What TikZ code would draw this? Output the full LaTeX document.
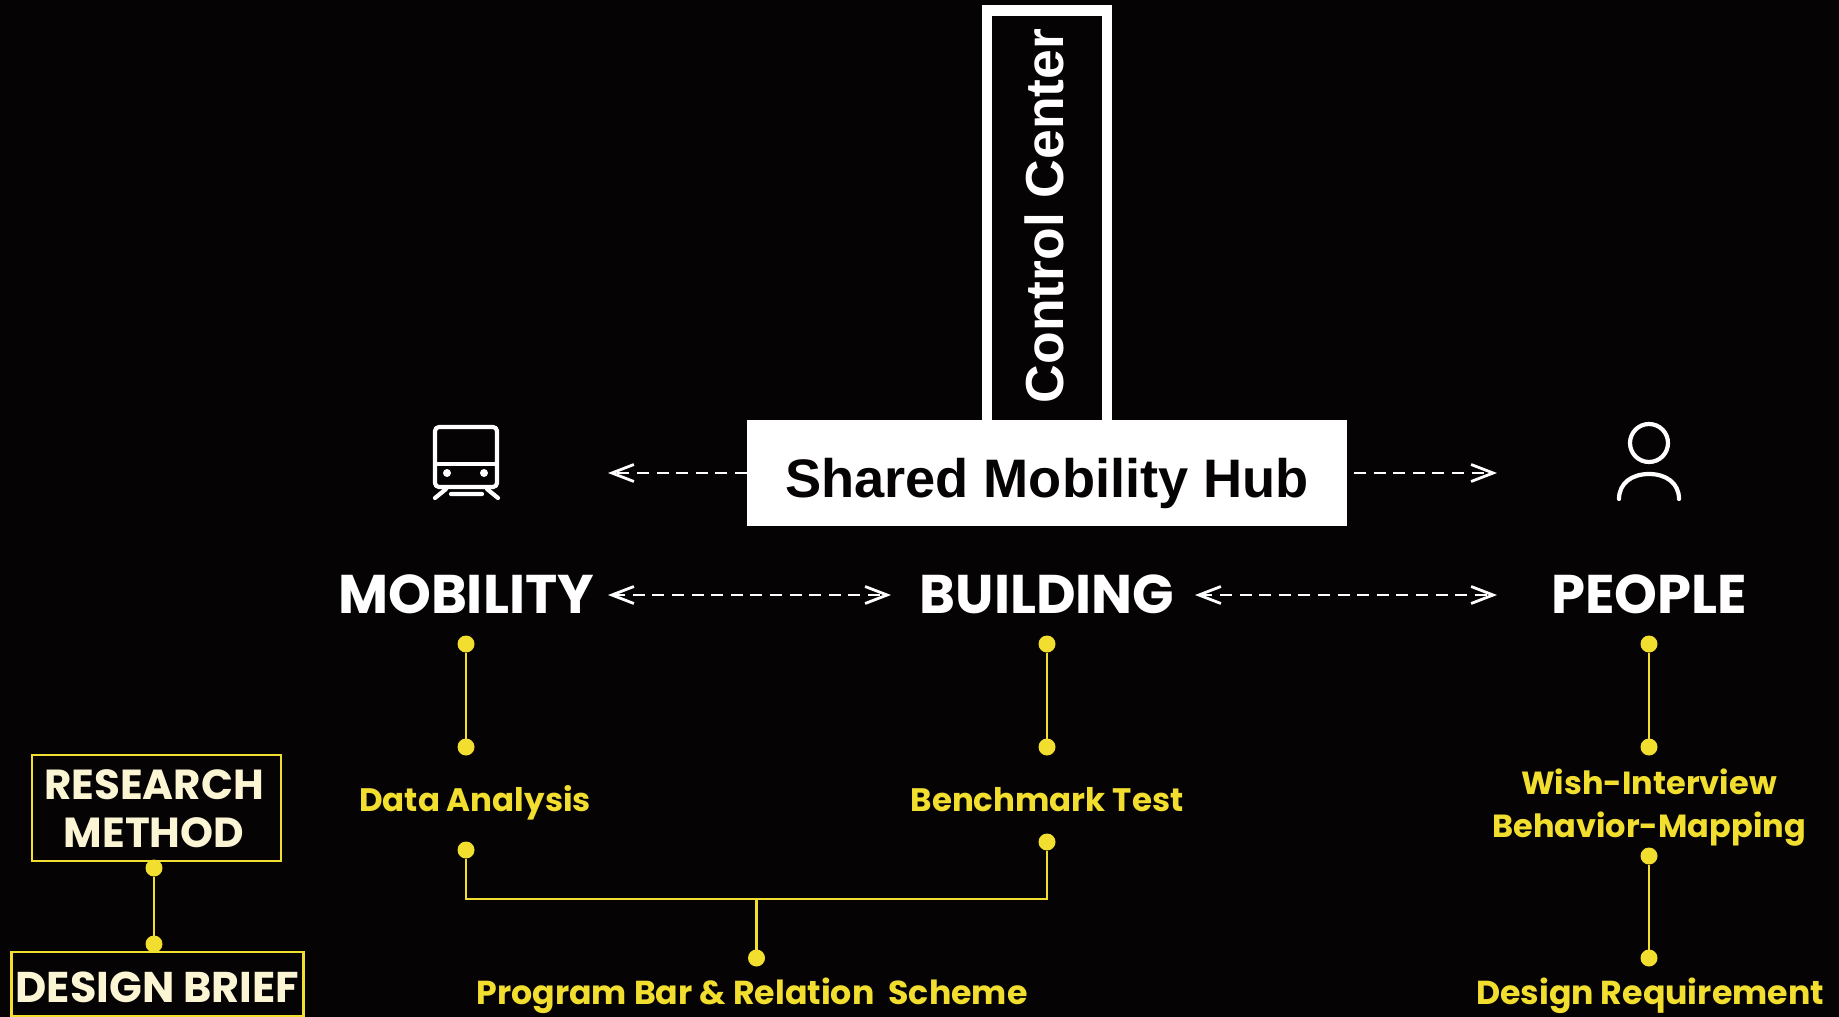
\documentclass[tikz,border=0pt]{standalone}
\usepackage{fontspec}
\usetikzlibrary{arrows.meta}
\setmainfont{Liberation Sans}
\newfontfamily\popb{Poppins Bold}
\definecolor{bgk}{HTML}{050304}
\definecolor{ylw}{HTML}{F2DE2E}
\definecolor{crm}{HTML}{FBF5D3}
\tikzset{
  x=1pt,y=-1pt,
  bar/.style={inner sep=0pt,outer sep=0pt,anchor=base},
  hubtext/.style={bar,text=bgk,font=\fontsize{54.2}{56}\selectfont\bfseries},
  ctrltext/.style={bar,text=white,rotate=90,font=\fontsize{53.5}{56}\selectfont\bfseries},
  head/.style={bar,text=white,font=\popb\fontsize{54.5}{56}\selectfont},
  ylabel/.style={bar,text=ylw,font=\popb\fontsize{32.5}{34}\selectfont},
  ylabelw/.style={bar,text=ylw,font=\popb\fontsize{33.2}{34}\selectfont},
  ylabeln/.style={bar,text=ylw,font=\popb\fontsize{32}{34}\selectfont},
  method/.style={bar,text=crm,font=\popb\fontsize{42}{42}\selectfont},
  methodw/.style={bar,text=crm,font=\popb\fontsize{43}{43}\selectfont},
  dot/.style={circle,fill=ylw,minimum size=17pt,inner sep=0pt,outer sep=0pt},
  yline/.style={draw=ylw,line width=2.8pt},
  tipbarb/.tip={Straight Barb[length=22pt,width=17pt,line width=2.8pt]},
  dashar/.style={white,line width=2.8pt,dash pattern=on 12pt off 7.6pt,tipbarb-tipbarb},
  dashr/.style={white,line width=2.8pt,dash pattern=on 12pt off 7.6pt,-tipbarb},
  icon/.style={draw=white,line width=4.2pt,line cap=round,line join=round},
  ybox/.style={draw=ylw,line width=2.8pt,inner sep=0pt,outer sep=0pt}
}
\begin{document}
\begin{tikzpicture}
\useasboundingbox (0,0) rectangle (1839,1017);
\fill[bgk] (0,0) rectangle (1839,1017);

% control center
\node[draw=white,line width=10.5pt,minimum width=120pt,minimum height=420pt,inner sep=0pt,outer sep=0pt] (ctrl) at (1047,220.5) {};
\node[ctrltext] (ctrltxt) at (1063,216) {Control Center};

% hub
\node[fill=white,minimum width=600pt,minimum height=106pt,inner sep=0pt,outer sep=0pt] (hub) at (1047,473) {};
\node[hubtext] (hubtxt) at (1047,497) {Shared Mobility Hub};

% headings
\node[head] (mob) at (466,613) {MOBILITY};
\node[head] (bld) at (1047,613) {BUILDING};
\node[head] (ppl) at (1649,613) {PEOPLE};

% dashed arrows
\coordinate (a1) at (608,473);
\coordinate (a2) at (1354,473);
\coordinate (a3) at (1497,473);
\coordinate (b1) at (608,595);
\coordinate (b2) at (891,595);
\coordinate (b3) at (1195,595);
\coordinate (b4) at (1497,595);
\draw[dashr] (hub.west) -- (a1);
\draw[dashr] (a2) -- (a3);
\draw[dashar] (b1) -- (b2);
\draw[dashar] (b3) -- (b4);

% train icon
\draw[icon,rounded corners=4pt] (435,427) rectangle (497,487);
\draw[icon,line cap=butt] (435,464) -- (497,464);
\fill[white] (447,473) circle (4pt) (484,473) circle (4pt);
\draw[icon] (446,489) -- (435,498) (487,489) -- (498,498) (451,494) -- (482,494);

% person icon
\draw[icon] (1649,443) circle (19pt);
\draw[icon] (1619,499) .. controls (1619,483) and (1632,474) .. (1649,474) .. controls (1666,474) and (1679,483) .. (1679,499);

% mobility column
\node[dot] (m1) at (466,644) {};
\node[dot] (m2) at (466,747) {};
\node[ylabel] (mt) at (475,811) {Data Analysis};
\node[dot] (m3) at (466,850) {};
\draw[yline] (m1) -- (m2);

% building column
\node[dot] (g1) at (1047,644) {};
\node[dot] (g2) at (1047,747) {};
\node[ylabel] (gt) at (1047,811) {Benchmark Test};
\node[dot] (g3) at (1047,842) {};
\draw[yline] (g1) -- (g2);

% program bar
\coordinate (jn) at (756.5,899);
\node[dot] (pd) at (756.5,958) {};
\node[ylabelw] (pt) at (752,1004) {Program Bar \& Relation\ \ Scheme};
\draw[yline] (m3) |- (jn) -| (g3);
\draw[yline] (jn) -- (pd);

% people column
\node[dot] (p1) at (1649,644) {};
\node[dot] (p2) at (1649,747) {};
\node[ylabeln] (pa) at (1649,794) {Wish-Interview};
\node[ylabeln] (pb) at (1649,837) {Behavior-Mapping};
\node[dot] (p3) at (1649,856) {};
\node[dot] (p4) at (1649,958) {};
\node[ylabelw] (pc) at (1650,1004) {Design Requirement};
\draw[yline] (p1) -- (p2);
\draw[yline] (p3) -- (p4);

% method boxes
\node[ybox,minimum width=249pt,minimum height=106pt] (rm) at (156.5,808) {};
\node[method] (rm1) at (154,799) {RESEARCH};
\node[method] (rm2) at (154,847) {METHOD};
\node[ybox,minimum width=292pt,minimum height=64pt] (db) at (157.5,984) {};
\node[methodw] (dbt) at (157.5,1002) {DESIGN BRIEF};
\node[dot] (r1) at (154,868) {};
\node[dot] (r2) at (154,944) {};
\draw[yline] (r1) -- (r2);
\end{tikzpicture}
\end{document}
